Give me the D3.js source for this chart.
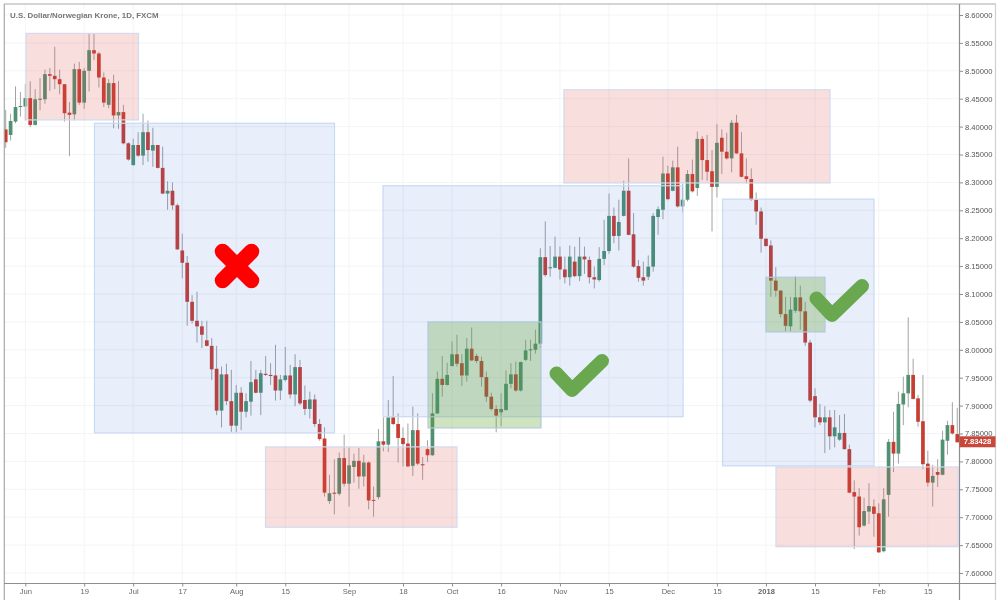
<!DOCTYPE html>
<html>
<head>
<meta charset="utf-8">
<script src="https://d3js.org/d3.v7.min.js"></script>
<style>
body { margin: 0; background: #fff; }
text { font-family: "Liberation Sans", Arial, sans-serif; }
</style>
</head>
<body>
<div id="chart"></div>
<script>
var opens = [8.395,8.385,8.409,8.435,8.436,8.451,8.403,8.448,8.449,8.494,8.491,8.485,8.476,8.425,8.422,8.503,8.443,8.500,8.537,8.531,
  8.488,8.439,8.478,8.420,8.426,8.370,8.331,8.367,8.348,8.390,8.357,8.367,8.326,8.280,8.285,8.259,8.178,8.156,8.086,8.052,
  8.042,8.017,8.007,7.966,7.891,7.956,7.908,7.864,7.923,7.889,7.907,7.947,7.923,7.957,7.955,7.954,7.927,7.946,7.954,7.920,
  7.969,7.910,7.894,7.911,7.867,7.841,7.729,7.744,7.742,7.806,7.760,7.790,7.801,7.773,7.798,7.731,7.736,7.836,7.830,7.879,
  7.867,7.842,7.832,7.792,7.856,7.795,7.822,7.811,7.886,7.948,7.937,7.971,7.992,7.976,7.954,8.002,7.989,7.980,7.951,7.916,
  7.894,7.888,7.892,7.939,7.956,7.927,7.982,7.999,8.000,8.011,8.166,8.146,8.147,8.167,8.144,8.130,8.158,8.132,8.167,8.161,
  8.130,8.125,8.163,8.177,8.240,8.204,8.240,8.285,8.207,8.150,8.130,8.131,8.149,8.238,8.251,8.316,8.285,8.327,8.257,8.269,
  8.315,8.290,8.378,8.340,8.320,8.292,8.380,8.355,8.343,8.407,8.352,8.311,8.306,8.269,8.248,8.199,8.187,8.124,8.106,8.064,
  8.042,8.070,8.094,8.069,8.013,7.917,7.879,7.870,7.879,7.845,7.839,7.851,7.822,7.745,7.737,7.685,7.710,7.719,7.707,7.639,
  7.740,7.835,7.814,7.902,7.922,7.955,7.913,7.872,7.796,7.762,7.781,7.776,7.837,7.865,7.849];
var highs = [8.430,8.423,8.472,8.462,8.476,8.481,8.467,8.487,8.502,8.505,8.543,8.502,8.476,8.444,8.513,8.516,8.505,8.567,8.567,8.534,
  8.497,8.485,8.493,8.482,8.439,8.372,8.378,8.390,8.423,8.411,8.398,8.367,8.364,8.302,8.300,8.262,8.208,8.168,8.098,8.104,
  8.052,8.052,8.021,8.007,7.970,7.975,7.964,7.937,7.933,7.922,7.980,7.964,7.964,7.989,7.976,8.009,7.955,8.005,7.973,7.992,
  7.982,7.936,7.925,7.920,7.876,7.861,7.776,7.804,7.816,7.848,7.825,7.814,7.824,7.812,7.800,7.755,7.858,7.879,7.910,7.953,
  7.886,7.861,7.868,7.898,7.886,7.808,7.838,7.922,7.961,7.989,7.977,8.015,8.027,7.992,8.021,8.040,7.993,7.988,7.961,7.923,
  7.901,7.922,7.963,7.976,7.979,7.979,8.018,8.018,8.036,8.182,8.230,8.186,8.203,8.185,8.167,8.187,8.185,8.202,8.185,8.167,
  8.149,8.184,8.233,8.280,8.255,8.269,8.303,8.343,8.245,8.161,8.158,8.169,8.245,8.257,8.346,8.330,8.339,8.364,8.298,8.322,
  8.341,8.391,8.383,8.385,8.358,8.405,8.395,8.389,8.412,8.421,8.390,8.343,8.325,8.282,8.255,8.200,8.196,8.148,8.107,8.095,
  8.095,8.132,8.115,8.086,8.018,7.931,7.903,7.899,7.892,7.892,7.883,7.885,7.830,7.766,7.752,7.735,7.761,7.732,7.725,7.752,
  7.840,7.889,7.925,7.952,8.058,7.984,7.919,7.955,7.819,7.794,7.804,7.855,7.873,7.906,7.896];
var lows = [8.362,8.375,8.406,8.418,8.411,8.399,8.402,8.429,8.441,8.464,8.467,8.458,8.409,8.347,8.411,8.439,8.432,8.463,8.519,8.470,
  8.435,8.433,8.397,8.396,8.368,8.339,8.330,8.346,8.331,8.337,8.328,8.325,8.279,8.251,8.251,8.179,8.128,8.043,8.047,8.013,
  8.003,8.006,7.946,7.883,7.861,7.901,7.853,7.852,7.856,7.879,7.882,7.922,7.883,7.953,7.937,7.909,7.910,7.943,7.913,7.899,
  7.901,7.883,7.877,7.862,7.837,7.737,7.724,7.705,7.739,7.755,7.719,7.762,7.751,7.755,7.714,7.701,7.732,7.818,7.817,7.865,
  7.798,7.791,7.790,7.774,7.793,7.767,7.799,7.810,7.885,7.916,7.936,7.970,7.970,7.935,7.943,7.980,7.976,7.934,7.907,7.891,
  7.852,7.863,7.891,7.931,7.925,7.925,7.980,7.980,7.993,8.003,8.131,8.131,8.146,8.126,8.119,8.115,8.130,8.123,8.136,8.119,
  8.110,8.122,8.152,8.172,8.191,8.178,8.239,8.205,8.147,8.122,8.115,8.125,8.140,8.206,8.234,8.268,8.284,8.255,8.246,8.266,
  8.282,8.276,8.304,8.303,8.212,8.273,8.315,8.341,8.318,8.351,8.309,8.298,8.267,8.224,8.174,8.185,8.095,8.095,8.058,8.033,
  8.033,8.066,8.036,8.007,7.906,7.861,7.865,7.815,7.821,7.825,7.837,7.821,7.743,7.643,7.667,7.683,7.688,7.665,7.636,7.637,
  7.701,7.781,7.796,7.865,7.897,7.911,7.862,7.786,7.755,7.719,7.754,7.775,7.812,7.848,7.834];
var closes = [8.372,8.410,8.435,8.437,8.451,8.403,8.449,8.450,8.494,8.491,8.485,8.476,8.424,8.421,8.503,8.443,8.500,8.537,8.531,8.488,
  8.443,8.478,8.420,8.426,8.370,8.341,8.367,8.348,8.390,8.358,8.367,8.326,8.280,8.285,8.259,8.180,8.156,8.086,8.052,8.042,
  8.027,8.007,7.965,7.891,7.956,7.908,7.864,7.923,7.889,7.908,7.942,7.923,7.958,7.955,7.953,7.927,7.947,7.954,7.920,7.969,
  7.904,7.894,7.911,7.867,7.840,7.744,7.743,7.742,7.806,7.760,7.793,7.801,7.773,7.798,7.730,7.730,7.836,7.830,7.879,7.867,
  7.842,7.831,7.791,7.856,7.796,7.793,7.811,7.886,7.948,7.937,7.955,7.992,7.975,7.954,8.002,7.981,7.980,7.951,7.916,7.894,
  7.882,7.894,7.939,7.956,7.927,7.978,7.999,8.001,8.011,8.166,8.134,8.148,8.167,8.144,8.130,8.167,8.132,8.167,8.162,8.130,
  8.126,8.163,8.177,8.240,8.204,8.229,8.285,8.206,8.149,8.129,8.124,8.149,8.240,8.252,8.316,8.270,8.327,8.257,8.269,8.315,
  8.284,8.378,8.340,8.319,8.292,8.371,8.355,8.343,8.407,8.352,8.310,8.306,8.269,8.248,8.199,8.186,8.124,8.106,8.064,8.043,
  8.072,8.094,8.069,8.013,7.909,7.879,7.870,7.879,7.845,7.861,7.851,7.822,7.744,7.737,7.682,7.711,7.720,7.706,7.637,7.732,
  7.835,7.814,7.903,7.922,7.955,7.912,7.871,7.795,7.762,7.774,7.776,7.839,7.865,7.850,7.83428];

var priceTicks = [7.6,7.65,7.7,7.75,7.8,7.85,7.9,7.95,8.0,8.05,8.1,8.15,8.2,8.25,8.3,8.35,8.4,8.45,8.5,8.55,8.6];
var dateTickBars = [4,16,26,36,47,57,70,81,91,101,113,123,135,145,155,165,178,188];
var dateTickLabels = ["Jun","19","Jul","17","Aug","15","Sep","18","Oct","16","Nov","15","Dec","15","2018","15","Feb","15"];

// zones: first bar, last bar, top price, bottom price
var redZones = [[4.14,27.07,8.567,8.412],[52.97,92.0,7.826,7.682],[113.8,168.06,8.466,8.299],[157.04,194.15,7.790,7.647]];
var blueZones = [[18.1,67.03,8.406,7.851],[76.92,138.1,8.294,7.880],[146.15,177.02,8.270,7.792]];
var greenZones = [[86.1,109.13,8.050,7.860],[155.0,167.03,8.130,8.032]];

var lastPrice = 7.83428;
var title = "U.S. Dollar/Norwegian Krone, 1D, FXCM";

var width = 1000, height = 600;
var axisX = 959.5, axisY = 583.5;

var x = d3.scaleLinear().domain([0, 194]).range([5.7, 5.7 + 194 * 4.905]);
var y = d3.scaleLinear().domain([7.6, 8.6]).range([573, 15]);

var svg = d3.select("#chart").append("svg")
  .attr("width", width).attr("height", height)
  .style("display", "block");

// the reference is a soft, rescaled screenshot
var defs = svg.append("defs");
defs.append("filter").attr("id", "soft")
  .append("feGaussianBlur").attr("stdDeviation", 0.5);
defs.append("clipPath").attr("id", "pane").append("rect")
  .attr("x", 4).attr("y", 4).attr("width", axisX - 4).attr("height", axisY - 4);

var root = svg.append("g").attr("filter", "url(#soft)");

// grid
var grid = root.append("g").attr("stroke", "#f3f4f5").attr("stroke-width", 1);
grid.selectAll(".v").data(dateTickBars).enter().append("line")
  .attr("x1", function(d){return x(d);}).attr("x2", function(d){return x(d);})
  .attr("y1", 4).attr("y2", axisY);
grid.selectAll(".h").data(priceTicks).enter().append("line")
  .attr("x1", 4).attr("x2", axisX)
  .attr("y1", function(d){return y(d);}).attr("y2", function(d){return y(d);});

// candles
var upColor = "#4f9172", downColor = "#c73e33";
var bars = d3.range(opens.length);
var pane = root.append("g").attr("clip-path", "url(#pane)");
pane.selectAll(".wick").data(bars).enter().append("line")
  .attr("x1", function(i){return x(i);}).attr("x2", function(i){return x(i);})
  .attr("y1", function(i){return y(highs[i]);}).attr("y2", function(i){return y(lows[i]);})
  .attr("stroke", "#a3a3a5").attr("stroke-width", 1);
pane.selectAll(".body").data(bars).enter().append("rect")
  .attr("x", function(i){return x(i) - 1.85;})
  .attr("width", 3.7)
  .attr("y", function(i){return y(Math.max(opens[i], closes[i]));})
  .attr("height", function(i){return Math.max(1, Math.abs(y(opens[i]) - y(closes[i])));})
  .attr("fill", function(i){return closes[i] >= opens[i] ? upColor : downColor;});

// zones
function drawZones(list, fill, stroke) {
  pane.selectAll(null).data(list).enter().append("rect")
    .attr("x", function(d){return x(d[0]);})
    .attr("y", function(d){return y(d[2]);})
    .attr("width", function(d){return x(d[1]) - x(d[0]);})
    .attr("height", function(d){return y(d[3]) - y(d[2]);})
    .attr("fill", fill).attr("stroke", stroke).attr("stroke-width", 1.2);
}
drawZones(blueZones, "rgba(40,100,210,0.11)", "#c9daf3");
drawZones(redZones, "rgba(220,70,70,0.18)", "#d0dbef");
drawZones(greenZones, "rgba(95,161,45,0.3)", "#b2c9dd");

// marks
var cross = root.append("g").attr("stroke", "#ff0000").attr("stroke-width", 15.5)
  .attr("stroke-linecap", "round");
cross.append("line").attr("x1", 222.5).attr("y1", 251.5).attr("x2", 251.5).attr("y2", 280.5);
cross.append("line").attr("x1", 251.5).attr("y1", 251.5).attr("x2", 222.5).attr("y2", 280.5);
[[0, 0], [260, -75]].forEach(function(o) {
  root.append("path")
    .attr("d", "M556.5,373.5L572,390L602,361")
    .attr("transform", "translate(" + o[0] + "," + o[1] + ")")
    .attr("fill", "none").attr("stroke", "#6aa84f").attr("stroke-width", 14)
    .attr("stroke-linecap", "round").attr("stroke-linejoin", "round");
});

// frame
var frame = root.append("g").attr("stroke", "#a9a9a9").attr("stroke-width", 1.2);
frame.append("line").attr("x1", 4.3).attr("x2", 4.3).attr("y1", 4).attr("y2", height);
frame.append("line").attr("x1", 4).attr("x2", 996).attr("y1", 4).attr("y2", 4);
frame.append("line").attr("x1", 995.5).attr("x2", 995.5).attr("y1", 4).attr("y2", height)
  .attr("stroke", "#d0d0d0");

// axes
var xAxis = d3.axisBottom(x).tickValues(dateTickBars)
  .tickFormat(function(d, i){return dateTickLabels[i];}).tickSize(3).tickPadding(2.5);
var gx = root.append("g").attr("transform", "translate(0," + axisY + ")").call(xAxis);
gx.select(".domain").remove();
gx.append("line").attr("x1", 4).attr("x2", 996).attr("stroke", "#8e8e8e").attr("stroke-width", 1.2);
gx.selectAll(".tick line").attr("stroke", "#8e8e8e");
gx.selectAll(".tick text").attr("fill", "#666").attr("font-size", 7.6)
  .attr("font-family", "'Liberation Sans', Arial, sans-serif")
  .attr("font-weight", function(d, i){return dateTickLabels[i] == "2018" ? "bold" : "normal";});

var yAxis = d3.axisRight(y).tickValues(priceTicks)
  .tickFormat(function(d){return d.toFixed(5);}).tickSize(3.5).tickPadding(2);
var gy = root.append("g").attr("transform", "translate(" + axisX + ",0)").call(yAxis);
gy.select(".domain").remove();
gy.append("line").attr("y1", 4).attr("y2", height).attr("stroke", "#8e8e8e").attr("stroke-width", 1.2);
gy.selectAll(".tick line").attr("stroke", "#8e8e8e");
gy.selectAll(".tick text").attr("fill", "#555").attr("font-size", 7.6)
  .attr("font-family", "'Liberation Sans', Arial, sans-serif");

// last price tag
root.append("rect").attr("x", axisX).attr("y", y(lastPrice) - 6)
  .attr("width", 36).attr("height", 11).attr("fill", "#c8483a");
root.append("text").attr("x", axisX + 18).attr("y", y(lastPrice) + 2.2)
  .attr("text-anchor", "middle").attr("font-size", 7.6).attr("font-weight", "bold")
  .attr("fill", "#fff").text(lastPrice.toFixed(5));

root.append("text").attr("x", 10).attr("y", 18)
  .attr("font-size", 7.9).attr("font-weight", "bold").attr("fill", "#777").text(title);
</script>
</body>
</html>
